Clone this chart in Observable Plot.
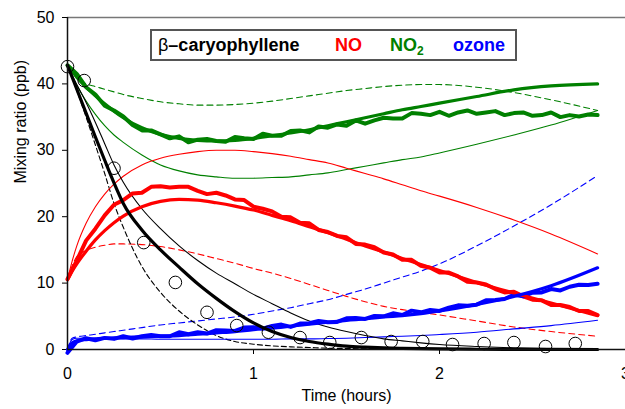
<!DOCTYPE html>
<html>
<head>
<meta charset="utf-8">
<script src="https://cdn.jsdelivr.net/npm/d3@7"></script>
<script src="https://cdn.jsdelivr.net/npm/@observablehq/plot@0.6"></script>
<style>
  html, body { margin: 0; padding: 0; background: #fff; }
  #wrap { position: relative; width: 625px; height: 409px; overflow: hidden; font-family: 'Liberation Sans', Arial, sans-serif; }
  #legend { position: absolute; left: 150px; top: 29px; width: 363px; height: 28px; border: 2px solid #555; background: #fff; }
  #legend span { position: absolute; top: 0; line-height: 28px; font-size: 18px; font-weight: bold; white-space: nowrap; }
  #legend sub { font-size: 12px; line-height: 0; vertical-align: -4px; }
</style>
</head>
<body>
<div id="wrap">
  <div id="chart"></div>
  <div id="legend">
    <span style="left:6px;color:#000"><span style="position:static;font-weight:normal">β</span>–caryophyllene</span>
    <span style="left:183px;color:#ff0000">NO</span>
    <span style="left:238px;color:#008000">NO<sub>2</sub></span>
    <span style="left:301px;color:#0000ff">ozone</span>
  </div>
</div>
<script>
// ---- time grids (hours) ----
const tModel = [0, 0.025, 0.05, 0.1, 0.15, 0.2, 0.25, 0.3, 0.4, 0.5, 0.6, 0.7, 0.8, 0.9, 1.0, 1.1, 1.2, 1.3, 1.4, 1.5, 1.6, 1.7, 1.8, 1.9, 2.0, 2.2, 2.4, 2.6, 2.85];
const tMeas = [0, 0.05, 0.1, 0.15, 0.2, 0.25, 0.3, 0.35, 0.4, 0.45, 0.5, 0.55, 0.6, 0.65, 0.7, 0.75, 0.8, 0.85, 0.9, 0.95,
  1.0, 1.05, 1.1, 1.15, 1.2, 1.25, 1.3, 1.35, 1.4, 1.45, 1.5, 1.55, 1.6, 1.65, 1.7, 1.75, 1.8, 1.85, 1.9, 1.95,
  2.0, 2.05, 2.1, 2.15, 2.2, 2.25, 2.3, 2.35, 2.4, 2.45, 2.5, 2.55, 2.6, 2.65, 2.7, 2.75, 2.8, 2.85];
const tObs = [0, 0.09, 0.25, 0.41, 0.58, 0.75, 0.91, 1.08, 1.25, 1.41, 1.58, 1.74, 1.91, 2.07, 2.24, 2.4, 2.57, 2.73];

// ---- beta-caryophyllene ----
const caryObs   = [42.6, 40.5, 27.3, 16.1, 10.1, 5.6, 3.6, 2.6, 1.8, 1.05, 1.8, 1.2, 1.2, 0.75, 0.9, 1.05, 0.45, 0.9];
const caryThick = [42.8, 41.0, 39.2, 35.6, 32.0, 28.5, 25.1, 22.0, 18.0, 15.0, 12.4, 9.9, 7.7, 5.7, 4.0, 2.7, 1.8, 1.2, 0.8, 0.5, 0.35, 0.25, 0.18, 0.12, 0.08, 0.04, 0.02, 0.01, 0];
const caryThin  = [42.8, 41.3, 39.9, 37.2, 34.2, 31.0, 27.8, 25.2, 21.2, 18.2, 15.6, 13.4, 11.5, 9.9, 8.3, 6.9, 5.5, 4.3, 3.4, 2.7, 2.1, 1.6, 1.3, 1.0, 0.75, 0.45, 0.25, 0.15, 0.08];
const caryDash  = [42.8, 40.9, 39.0, 35.0, 30.8, 26.5, 22.0, 18.4, 12.5, 8.6, 5.8, 3.7, 2.1, 1.2, 0.8, 0.55, 0.4, 0.3, 0.2, 0.15, 0.1, 0.08, 0.06, 0.05, 0.04, 0.02, 0.01, 0, 0];

// ---- NO ----
const noMeas  = [10.6, 13.4, 16.4, 18.2, 20.2, 21.8, 22.5, 23.5, 23.6, 24.5, 24.6, 24.4, 24.5, 24.5, 23.9, 23.4, 23.6, 23.2, 22.6, 22.5,
  21.5, 21.2, 20.8, 20.0, 19.9, 19.1, 19.0, 18.0, 17.7, 17.1, 16.9, 15.9, 15.8, 15.4, 14.6, 14.3, 13.5, 13.5, 12.6, 12.3,
  11.6, 11.6, 11.0, 10.2, 10.1, 9.8, 9.1, 8.6, 8.7, 8.0, 7.5, 7.4, 6.7, 6.7, 6.4, 5.8, 5.8, 5.2];
const noThick = [10.5, 11.8, 12.9, 14.8, 16.5, 17.9, 19.1, 20.1, 21.5, 22.3, 22.6, 22.5, 22.1, 21.6, 21.0, 20.2, 19.4, 18.5, 17.6, 16.6, 15.6, 14.7, 13.7, 12.8, 11.9, 10.1, 8.5, 7.0, 5.1];
const noThin  = [10.5, 13.3, 15.6, 19.0, 21.5, 23.4, 24.9, 26.1, 27.8, 28.8, 29.4, 29.8, 30.0, 30.0, 29.8, 29.5, 29.1, 28.6, 28.1, 27.3, 26.5, 25.7, 24.8, 23.9, 23.1, 21.4, 19.5, 17.4, 14.4];
const noDash  = [10.5, 12.6, 14.0, 14.9, 15.4, 15.7, 15.9, 15.9, 15.8, 15.5, 15.0, 14.4, 13.7, 13.0, 12.2, 11.5, 10.7, 9.8, 8.9, 8.0, 7.2, 6.5, 6.0, 5.6, 5.2, 4.3, 3.4, 2.7, 2.0];

// ---- NO2 ----
const no2Meas  = [42.8, 41.5, 39.5, 38.4, 36.7, 36.0, 35.1, 33.8, 33.0, 33.0, 32.4, 31.8, 32.1, 31.2, 31.6, 31.7, 31.4, 31.3, 32.0, 31.8,
  31.7, 32.5, 32.2, 32.2, 32.9, 33.0, 32.7, 33.6, 33.4, 33.9, 33.7, 34.5, 34.0, 34.5, 34.9, 34.8, 34.8, 35.6, 35.5, 35.3,
  35.8, 35.2, 35.7, 36.0, 35.5, 35.7, 35.9, 35.3, 35.6, 35.7, 35.2, 35.3, 35.7, 35.0, 35.3, 35.1, 35.4, 35.3];
const no2Thick = [42.8, 41.9, 41.0, 39.5, 38.2, 37.0, 35.9, 34.9, 33.4, 32.4, 31.8, 31.5, 31.4, 31.5, 31.8, 32.2, 32.6, 33.1, 33.7, 34.3, 34.9, 35.5, 36.1, 36.6, 37.1, 38.1, 39.1, 39.7, 40.0];
const no2Thin  = [42.8, 41.2, 39.8, 37.4, 35.4, 33.7, 32.3, 31.2, 29.3, 27.8, 26.9, 26.3, 26.0, 25.8, 25.8, 25.9, 26.0, 26.3, 26.6, 27.1, 27.6, 28.1, 28.6, 29.0, 29.6, 30.9, 32.3, 33.8, 36.0];
const no2Dash  = [42.8, 41.8, 40.9, 40.0, 39.6, 39.2, 38.8, 38.4, 37.8, 37.3, 37.0, 36.8, 36.8, 36.9, 37.1, 37.4, 37.8, 38.2, 38.6, 39.0, 39.3, 39.6, 39.8, 39.9, 39.9, 39.5, 38.7, 37.6, 36.0];

// ---- ozone ----
const o3Meas  = [-0.5, 1.2, 1.7, 1.4, 1.75, 1.6, 2.0, 1.65, 2.0, 2.2, 2.0, 2.0, 2.6, 2.3, 2.6, 2.4, 2.9, 2.85, 2.8, 3.3,
  3.35, 3.15, 3.55, 3.75, 3.4, 3.9, 3.95, 4.3, 4.1, 4.15, 4.7, 4.75, 4.6, 5.05, 5.0, 5.45, 5.2, 5.85, 5.6, 5.95,
  5.8, 6.3, 6.65, 6.6, 6.75, 7.4, 7.45, 7.6, 8.25, 8.0, 8.55, 8.6, 9.1, 8.9, 9.45, 9.75, 9.7, 9.9];
const o3Thick = [0, 1.0, 1.3, 1.5, 1.6, 1.7, 1.75, 1.8, 1.9, 2.0, 2.1, 2.3, 2.5, 2.7, 3.0, 3.2, 3.5, 3.8, 4.1, 4.4, 4.6, 4.9, 5.1, 5.4, 5.8, 6.8, 8.0, 9.6, 12.3];
const o3Thin  = [0, 1.5, 1.7, 1.7, 1.7, 1.65, 1.65, 1.6, 1.6, 1.55, 1.55, 1.55, 1.55, 1.55, 1.55, 1.55, 1.6, 1.6, 1.65, 1.7, 1.8, 1.9, 2.0, 2.1, 2.25, 2.6, 3.1, 3.6, 4.4];
const o3Dash  = [0, 1.7, 1.9, 2.1, 2.3, 2.5, 2.7, 2.9, 3.3, 3.7, 4.0, 4.3, 4.6, 4.9, 5.3, 5.8, 6.3, 6.9, 7.5, 8.3, 9.1, 10.0, 10.9, 11.8, 12.9, 15.6, 18.6, 21.8, 26.2];

// ---- axis ticks ----
const xTicks = [0, 1, 2, 3];
const yTicks = [0, 10, 20, 30, 40, 50];

const RED = "#ff0000", GREEN = "#008000", BLUE = "#0000ff", BLACK = "#000000";
const rows = (t, v) => t.map((x, i) => ({t: x, v: v[i]}));

const dashLine = (v, c, da) => Plot.line(rows(tModel, v), {x: "t", y: "v", stroke: c, strokeWidth: 1.1, strokeDasharray: da, curve: "monotone-x"});
const thinLine = (v, c) => Plot.line(rows(tModel, v), {x: "t", y: "v", stroke: c, strokeWidth: 1.1, curve: "monotone-x"});
const thickLine = (v, c) => Plot.line(rows(tModel, v), {x: "t", y: "v", stroke: c, strokeWidth: 3.2, curve: "monotone-x"});
const measLine = (v, c) => Plot.line(rows(tMeas, v), {x: "t", y: "v", stroke: c, strokeWidth: 4, strokeLinejoin: "round"});

const chart = Plot.plot({
  width: 625,
  height: 409,
  marginLeft: 67,
  marginRight: 0,
  marginTop: 17,
  marginBottom: 60,
  style: {fontFamily: "'Liberation Sans', Arial, sans-serif", fontSize: "16px", color: "#000", background: "#fff"},
  x: {domain: [0, 3], ticks: xTicks, tickFormat: d => String(d), tickSize: 5, tickPadding: 13, label: null},
  y: {domain: [0, 50], ticks: yTicks, tickFormat: d => String(d), tickSize: 5, tickPadding: 8, label: null},
  marks: [
    dashLine(no2Dash, GREEN, "6,4"),
    dashLine(noDash, RED, "6,4"),
    dashLine(o3Dash, BLUE, "6,4"),
    dashLine(caryDash, BLACK, "5,3"),
    thinLine(no2Thin, GREEN),
    thinLine(noThin, RED),
    thinLine(o3Thin, BLUE),
    thinLine(caryThin, BLACK),
    measLine(no2Meas, GREEN),
    measLine(noMeas, RED),
    measLine(o3Meas, BLUE),
    thickLine(no2Thick, GREEN),
    thickLine(noThick, RED),
    thickLine(o3Thick, BLUE),
    thickLine(caryThick, BLACK),
    Plot.dot(rows(tObs, caryObs), {x: "t", y: "v", r: 6.3, stroke: BLACK, strokeWidth: 1, fill: "none"}),
    Plot.ruleY([50], {stroke: "#777", strokeWidth: 1.5}),
    Plot.ruleY([0], {stroke: "#111", strokeWidth: 1.5}),
    Plot.ruleX([0], {stroke: "#111", strokeWidth: 1.5}),
    Plot.text(["Mixing ratio (ppb)"], {text: d => d, frameAnchor: "left", dx: -47, rotate: -90, fontSize: 16, fill: "#000"}),
    Plot.text(["Time (hours)"], {text: d => d, frameAnchor: "bottom", dy: 51, fontSize: 16, fill: "#000"})
  ]
});
document.getElementById("chart").appendChild(chart);
</script>
</body>
</html>
